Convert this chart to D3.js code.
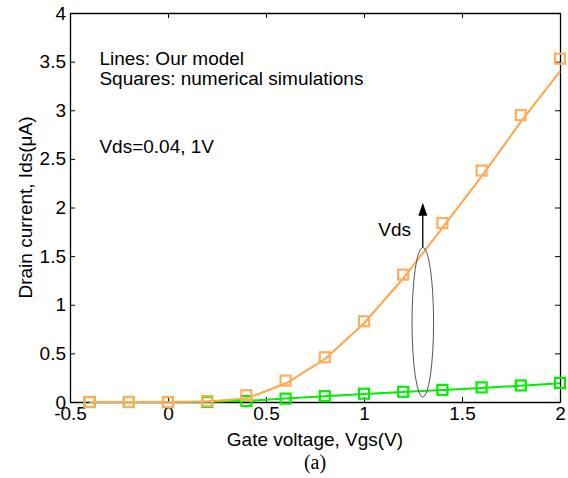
<!DOCTYPE html>
<html lang="en">

<head>
  <meta charset="UTF-8">
  <title>Drain current vs gate voltage</title>
  <script src="https://d3js.org/d3.v7.min.js"></script>
  <style>
    body { margin: 0; background: #fff; }
    text { font-family: "Liberation Sans", Arial, sans-serif; fill: #000; }
  </style>
</head>

<body>
  <div class="canvas"></div>
  <script>
    // gate voltage points (V)
    const vgs = [-0.4, -0.2, 0, 0.2, 0.4, 0.6, 0.8, 1.0, 1.2, 1.4, 1.6, 1.8, 2.0];
    // Vds = 1V : model line and simulation squares (uA)
    const modelHigh = [0, 0, 0, 0.005, 0.035, 0.19, 0.44, 0.81, 1.27, 1.79, 2.32, 2.88, 3.40];
    const simHigh = [0, 0, 0, 0.01, 0.07, 0.22, 0.46, 0.83, 1.31, 1.84, 2.38, 2.95, 3.53];
    // Vds = 0.04V
    const modelLow = [0, 0, 0, 0.002, 0.012, 0.035, 0.058, 0.083, 0.103, 0.123, 0.145, 0.168, 0.193];
    const simLow = [0, 0, 0, 0, 0.01, 0.035, 0.06, 0.085, 0.105, 0.125, 0.15, 0.17, 0.196];

    const xTicks = [-0.5, 0, 0.5, 1, 1.5, 2];
    const yTicks = [0, 0.5, 1, 1.5, 2, 2.5, 3, 3.5, 4];

    // annotation: ellipse round Vgs=1.3 and arrow pointing up
    const ellipseX = [1.245, 1.355];
    const ellipseY = [0.05, 1.59];
    const arrowTop = 2.05;

    const width = 568;
    const height = 478;
    const [mt, mr, mb, ml] = [13, 8, 76, 70];
    const graphWidth = width - ml - mr;
    const graphHeight = height - mt - mb;

    const orange = '#ffa54c';
    const orangeMark = '#ffad5c';
    const green = '#00f000';
    const greenMark = '#00f000';

    const svg = d3.select('.canvas')
      .append('svg')
      .attr('width', width)
      .attr('height', height);

    const graph = svg.append('g')
      .attr('transform', `translate(${ml}, ${mt})`);

    const x = d3.scaleLinear().domain([-0.5, 2]).range([0, graphWidth]);
    const y = d3.scaleLinear().domain([0, 4]).range([graphHeight, 0]);

    const fmt = d => String(d);

    function styleAxis(g) {
      g.attr('font-family', null).attr('font-size', null);
      g.selectAll('.domain').attr('stroke', '#000').attr('stroke-width', 1.3);
      g.selectAll('.tick line').attr('stroke', '#000');
      g.selectAll('.tick text').style('font-size', '19px');
    }

    graph.append('g')
      .attr('transform', `translate(0, ${graphHeight})`)
      .call(d3.axisBottom(x).tickValues(xTicks).tickFormat(fmt)
        .tickSizeInner(-5).tickSizeOuter(0).tickPadding(5))
      .call(styleAxis);
    graph.append('g')
      .call(d3.axisTop(x).tickValues(xTicks).tickFormat('')
        .tickSizeInner(-5).tickSizeOuter(0))
      .call(styleAxis);
    graph.append('g')
      .call(d3.axisLeft(y).tickValues(yTicks).tickFormat(fmt)
        .tickSizeInner(-5).tickSizeOuter(0).tickPadding(4))
      .call(styleAxis);
    graph.append('g')
      .attr('transform', `translate(${graphWidth}, 0)`)
      .call(d3.axisRight(y).tickValues(yTicks).tickFormat('')
        .tickSizeInner(-5).tickSizeOuter(0))
      .call(styleAxis);

    const line = d3.line()
      .x((d, i) => x(vgs[i]))
      .y(d => y(d));

    function drawSeries(model, sim, lineColor, markColor) {
      graph.append('path')
        .datum(model)
        .attr('d', line)
        .attr('fill', 'none')
        .attr('stroke', lineColor)
        .attr('stroke-width', 2);
      graph.append('g')
        .selectAll('rect')
        .data(sim)
        .enter()
        .append('rect')
        .attr('x', (d, i) => x(vgs[i]) - 5)
        .attr('y', d => y(d) - 5)
        .attr('width', 10)
        .attr('height', 10)
        .attr('fill', 'none')
        .attr('stroke', markColor)
        .attr('stroke-width', 2.2);
    }

    drawSeries(modelLow, simLow, green, greenMark);
    drawSeries(modelHigh, simHigh, orange, orangeMark);

    // ellipse and arrow
    const ex = (x(ellipseX[0]) + x(ellipseX[1])) / 2;
    graph.append('ellipse')
      .attr('cx', ex)
      .attr('cy', (y(ellipseY[0]) + y(ellipseY[1])) / 2)
      .attr('rx', (x(ellipseX[1]) - x(ellipseX[0])) / 2)
      .attr('ry', (y(ellipseY[0]) - y(ellipseY[1])) / 2)
      .attr('fill', 'none')
      .attr('stroke', '#555')
      .attr('stroke-width', 1);

    graph.append('line')
      .attr('x1', ex).attr('x2', ex)
      .attr('y1', y(ellipseY[1])).attr('y2', y(arrowTop) + 6)
      .attr('stroke', '#000')
      .attr('stroke-width', 1.3);
    graph.append('path')
      .attr('d', `M${ex},${y(arrowTop)} L${ex - 4.5},${y(arrowTop) + 13} L${ex + 4.5},${y(arrowTop) + 13} Z`)
      .attr('fill', '#000');

    graph.append('text')
      .attr('x', x(1.24))
      .attr('y', y(1.71))
      .attr('text-anchor', 'end')
      .style('font-size', '19px')
      .text('Vds');

    // notes inside the plot
    const notes = [
      ['Lines: Our model', 3.47],
      ['Squares: numerical simulations', 3.26],
      ['Vds=0.04, 1V', 2.56]
    ];
    graph.selectAll('.note')
      .data(notes)
      .enter()
      .append('text')
      .attr('class', 'note')
      .attr('x', x(-0.35))
      .attr('y', d => y(d[1]))
      .style('font-size', '19px')
      .text(d => d[0]);

    // axis titles
    svg.append('text')
      .attr('x', ml + x(0.75))
      .attr('y', 446)
      .attr('text-anchor', 'middle')
      .style('font-size', '19px')
      .text('Gate voltage, Vgs(V)');

    svg.append('text')
      .attr('transform', `translate(32, ${mt + y(2)}) rotate(-90)`)
      .attr('text-anchor', 'middle')
      .style('font-size', '19px')
      .text('Drain current, Ids(μA)');

    svg.append('text')
      .attr('x', ml + x(0.75))
      .attr('y', 469)
      .attr('text-anchor', 'middle')
      .style('font-family', '"Liberation Serif", "Times New Roman", serif')
      .style('font-size', '20px')
      .text('(a)');
  </script>

</body>

</html>
